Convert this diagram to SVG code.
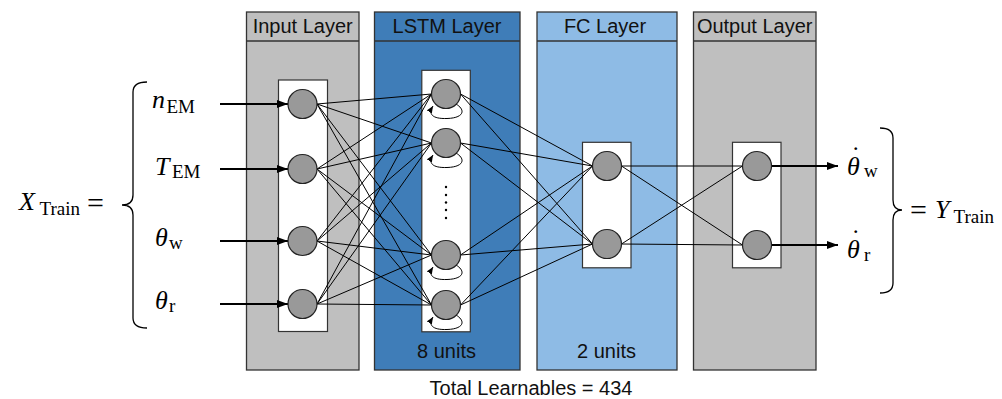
<svg xmlns="http://www.w3.org/2000/svg" width="1002" height="399" viewBox="0 0 1002 399">
<style>
.layer{stroke:#333;stroke-width:1.3}
.hdr{font-family:"Liberation Sans",Arial,sans-serif;font-size:20px;fill:#111;text-anchor:middle}
.box{fill:#fff;stroke:#333;stroke-width:1.2}
.node{fill:#999;stroke:#222;stroke-width:1.2}
.conn{stroke:#000;stroke-width:1;fill:none}
.loop{stroke:#000;stroke-width:1;fill:none;marker-end:url(#sa)}
.thick{stroke:#000;stroke-width:2;fill:none;marker-end:url(#ba)}
.m{font-family:"Liberation Serif","Times New Roman",serif;font-size:26px;font-style:italic;fill:#000}
.s{font-family:"Liberation Serif","Times New Roman",serif;font-size:19px;font-style:normal;fill:#000}
.r{font-family:"Liberation Serif","Times New Roman",serif;font-size:30px;fill:#000}
.brace{stroke:#000;stroke-width:1.3;fill:none}
.lbl{font-family:"Liberation Sans",Arial,sans-serif;font-size:20px;fill:#111;text-anchor:middle}
</style>
<defs>
<marker id="ba" markerUnits="userSpaceOnUse" markerWidth="12" markerHeight="10" refX="11" refY="4" orient="auto"><path d="M0,0 L11,4 L0,8 z" fill="#000"/></marker>
<marker id="sa" markerUnits="userSpaceOnUse" markerWidth="8" markerHeight="8" refX="7" refY="3" orient="auto"><path d="M0,0 L7,3 L0,6 z" fill="#000"/></marker>
</defs>
<rect width="1002" height="399" fill="#fff"/>

<g id="input-layer">
<rect class="layer" x="246.5" y="12" width="112.5" height="358" fill="#bfbfbf"/>
<line class="layer" x1="246.5" y1="41" x2="359" y2="41"/>
<text class="hdr" x="302.7" y="33">Input Layer</text>
<rect class="box" x="278.5" y="80" width="49" height="251.5"/>
</g>
<g id="lstm-layer">
<rect class="layer" x="374.5" y="12" width="145.5" height="358" fill="#3f7db8"/>
<line class="layer" x1="374.5" y1="41" x2="520" y2="41"/>
<text class="hdr" x="447" y="33">LSTM Layer</text>
<rect class="box" x="421.8" y="70.3" width="48.5" height="261.5"/>
<text class="lbl" x="446.5" y="358">8 units</text>
</g>
<g id="fc-layer">
<rect class="layer" x="537" y="12" width="140" height="358" fill="#8ebbe5"/>
<line class="layer" x1="537" y1="41" x2="677" y2="41"/>
<text class="hdr" x="605" y="33">FC Layer</text>
<rect class="box" x="582.5" y="142.3" width="48.5" height="125.5"/>
<text class="lbl" x="606.5" y="358">2 units</text>
</g>
<g id="output-layer">
<rect class="layer" x="693.5" y="12" width="122.5" height="358" fill="#bfbfbf" stroke="#555"/>
<line class="layer" x1="693.5" y1="41" x2="816" y2="41"/>
<text class="hdr" x="754.7" y="33">Output Layer</text>
<rect class="box" x="732.5" y="142.3" width="48.5" height="125.5"/>
</g>

<g id="connectors">
<path class="conn" d="M317,104 L431.5,94 M317,104 L431.5,143 M317,104 L431.5,255 M317,104 L431.5,305
M317,169 L431.5,94 M317,169 L431.5,143 M317,169 L431.5,255 M317,169 L431.5,305
M317,241 L431.5,94 M317,241 L431.5,143 M317,241 L431.5,255 M317,241 L431.5,305
M317,304 L431.5,94 M317,304 L431.5,143 M317,304 L431.5,255 M317,304 L431.5,305"/>
<path class="conn" d="M460.5,94 L592.5,166 M460.5,94 L592.5,244 M460.5,143 L592.5,166 M460.5,143 L592.5,244
M460.5,255 L592.5,166 M460.5,255 L592.5,244 M460.5,305 L592.5,166 M460.5,305 L592.5,244"/>
<path class="conn" d="M621.5,166 L742.5,166 M621.5,166 L742.5,245 M621.5,244 L742.5,166 M621.5,244 L742.5,245"/>
<line class="thick" x1="220" y1="104" x2="288" y2="104"/>
<line class="thick" x1="220" y1="169" x2="288" y2="169"/>
<line class="thick" x1="220" y1="241" x2="288" y2="241"/>
<line class="thick" x1="220" y1="304" x2="288" y2="304"/>
<line class="thick" x1="771.5" y1="166" x2="838" y2="166"/>
<line class="thick" x1="771.5" y1="245" x2="838" y2="245"/>
<path class="loop" d="M456,104 C466,110 464,118 447,118.5 C432,119 428,114 433,106"/>
<path class="loop" d="M456,153 C466,159 464,167 447,167.5 C432,168 428,163 433,155"/>
<path class="loop" d="M456,265 C466,271 464,279 447,279.5 C432,280 428,275 433,267"/>
<path class="loop" d="M456,315 C466,321 464,329 447,329.5 C432,330 428,325 433,317"/>
</g>

<g id="input-nodes">
<circle class="node" cx="302.5" cy="104" r="14.5"/>
<circle class="node" cx="302.5" cy="169" r="14.5"/>
<circle class="node" cx="302.5" cy="241" r="14.5"/>
<circle class="node" cx="302.5" cy="304" r="14.5"/>
</g>
<g id="lstm-nodes">
<circle class="node" cx="446" cy="94" r="14.5"/>
<circle class="node" cx="446" cy="143" r="14.5"/>
<circle class="node" cx="446" cy="255" r="14.5"/>
<circle class="node" cx="446" cy="305" r="14.5"/>
<g fill="#000"><circle cx="446" cy="187" r="1.2"/><circle cx="446" cy="195" r="1.2"/><circle cx="446" cy="202.5" r="1.2"/><circle cx="446" cy="210" r="1.2"/><circle cx="446" cy="218" r="1.2"/></g>
</g>
<g id="fc-nodes">
<circle class="node" cx="607" cy="166" r="14.5"/>
<circle class="node" cx="607" cy="244" r="14.5"/>
</g>
<g id="output-nodes">
<circle class="node" cx="757" cy="166" r="14.5"/>
<circle class="node" cx="757" cy="245" r="14.5"/>
</g>

<g id="x-train">
<text class="m" x="19" y="210">X</text><text class="s" x="39.5" y="215">Train</text>
<text class="r" x="87" y="213">=</text>
<path class="brace" d="M147,82 Q133,82 133,92 L133,195 Q133,205 122,205 Q133,205 133,215 L133,318 Q133,328 147,328"/>
<text class="m" x="152" y="108">n</text><text class="s" x="166.5" y="113">EM</text>
<text class="m" x="155" y="175">T</text><text class="s" x="172" y="178">EM</text>
<text class="m" x="155" y="246">θ</text><text class="s" x="169" y="249">w</text>
<text class="m" x="155" y="309">θ</text><text class="s" x="169" y="312">r</text>
</g>
<g id="y-train">
<text class="m" x="847" y="175">θ<tspan dx="-10" dy="-11">˙</tspan><tspan class="s" x="864" y="177">w</tspan></text>
<text class="m" x="847" y="258">θ<tspan dx="-10" dy="-11">˙</tspan><tspan class="s" x="864" y="261">r</tspan></text>
<path class="brace" d="M880,128 Q893,128 893,138 L893,200 Q893,210 902,210 Q893,210 893,220 L893,283 Q893,293 880,293"/>
<text class="r" x="910" y="220">=</text>
<text class="m" x="935" y="218">Y</text><text class="s" x="953.5" y="223">Train</text>
</g>
<text class="lbl" x="531" y="395">Total Learnables = 434</text>
</svg>
